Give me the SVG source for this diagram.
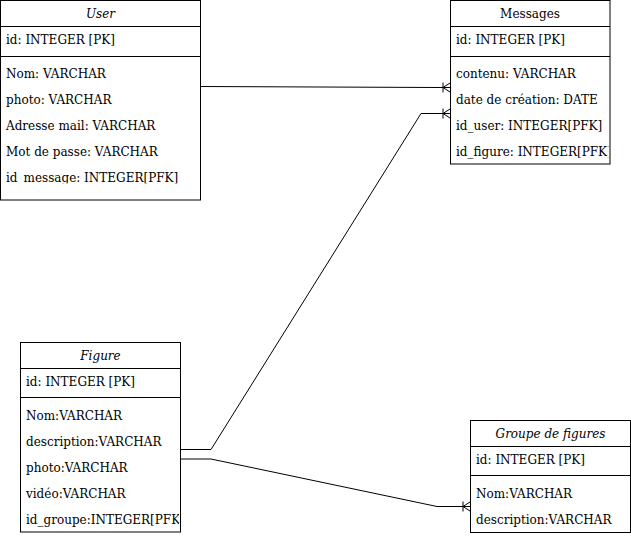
<svg xmlns="http://www.w3.org/2000/svg" width="631" height="536" viewBox="0 0 631 536">
<style>
.box{fill:#fff;stroke:#000;stroke-width:1}
.ln{stroke:#000;stroke-width:1;fill:none}
text{font-family:"DejaVu Serif",serif;font-size:12px;fill:#000}
.t{font-style:italic;text-anchor:middle}
.tm{text-anchor:middle}
</style>
<defs>
<marker id="many" viewBox="0 0 12 12" markerWidth="12" markerHeight="12" refX="10" refY="6" orient="auto" markerUnits="userSpaceOnUse">
<path d="M3,1 L3,11 M3,6 L10,1.5 M3,6 L10,10.5" fill="none" stroke="#000" stroke-width="1"/>
</marker>
<clipPath id="cu"><rect x="0" y="0" width="200" height="183.5"/></clipPath>
<clipPath id="cm"><rect x="450" y="0" width="158.5" height="164"/></clipPath>
<clipPath id="cf"><rect x="20" y="342" width="159" height="190"/></clipPath>
</defs>
<g id="connectors">
<path class="ln" d="M200.5,86.5 L440,87.5 L450,87.5" marker-end="url(#many)"/>
<path class="ln" d="M180.5,449.5 L211,449.5 L421,113.5 L450,113.5" marker-end="url(#many)"/>
<path class="ln" d="M180.5,459 L211,459 L437,506.5 L470,506.5" marker-end="url(#many)"/>
</g>
<g id="user">
<rect class="box" x="0.5" y="0.5" width="200" height="199.5"/>
<line class="ln" x1="0.5" y1="26.5" x2="200.5" y2="26.5"/>
<line class="ln" x1="0.5" y1="56.5" x2="200.5" y2="56.5"/>
<text class="t" x="100.5" y="18">User</text>
<g clip-path="url(#cu)">
<text x="6" y="44">id: INTEGER [PK]</text>
<text x="6" y="78">Nom: VARCHAR</text>
<text x="6" y="104">photo: VARCHAR</text>
<text x="6" y="130">Adresse mail: VARCHAR</text>
<text x="6" y="156">Mot de passe: VARCHAR</text>
<text x="6" y="182">id_message: INTEGER[PFK]</text>
</g>
</g>
<g id="messages">
<rect class="box" x="450.5" y="0.5" width="159.5" height="163.5"/>
<line class="ln" x1="450.5" y1="26.5" x2="610" y2="26.5"/>
<line class="ln" x1="450.5" y1="56.5" x2="610" y2="56.5"/>
<text class="tm" x="530" y="18">Messages</text>
<g clip-path="url(#cm)">
<text x="456" y="44">id: INTEGER [PK]</text>
<text x="456" y="78">contenu: VARCHAR</text>
<text x="456" y="104">date de création: DATE</text>
<text x="456" y="130">id_user: INTEGER[PFK]</text>
<text x="456" y="156">id_figure: INTEGER[PFK]</text>
</g>
</g>
<g id="figure">
<rect class="box" x="20.5" y="342.5" width="160" height="189.5"/>
<line class="ln" x1="20.5" y1="368.5" x2="180.5" y2="368.5"/>
<line class="ln" x1="20.5" y1="397.5" x2="180.5" y2="397.5"/>
<text class="t" x="100.5" y="360">Figure</text>
<g clip-path="url(#cf)">
<text x="26" y="386">id: INTEGER [PK]</text>
<text x="26" y="420">Nom:VARCHAR</text>
<text x="26" y="446">description:VARCHAR</text>
<text x="26" y="472">photo:VARCHAR</text>
<text x="26" y="498">vidéo:VARCHAR</text>
<text x="26" y="524">id_groupe:INTEGER[PFK]</text>
</g>
</g>
<g id="groupe">
<rect class="box" x="470.5" y="420.5" width="160" height="112"/>
<line class="ln" x1="470.5" y1="446.5" x2="630.5" y2="446.5"/>
<line class="ln" x1="470.5" y1="475.5" x2="630.5" y2="475.5"/>
<text class="t" x="550.5" y="438">Groupe de figures</text>
<text x="476" y="464">id: INTEGER [PK]</text>
<text x="476" y="498">Nom:VARCHAR</text>
<text x="476" y="524">description:VARCHAR</text>
</g>
</svg>
